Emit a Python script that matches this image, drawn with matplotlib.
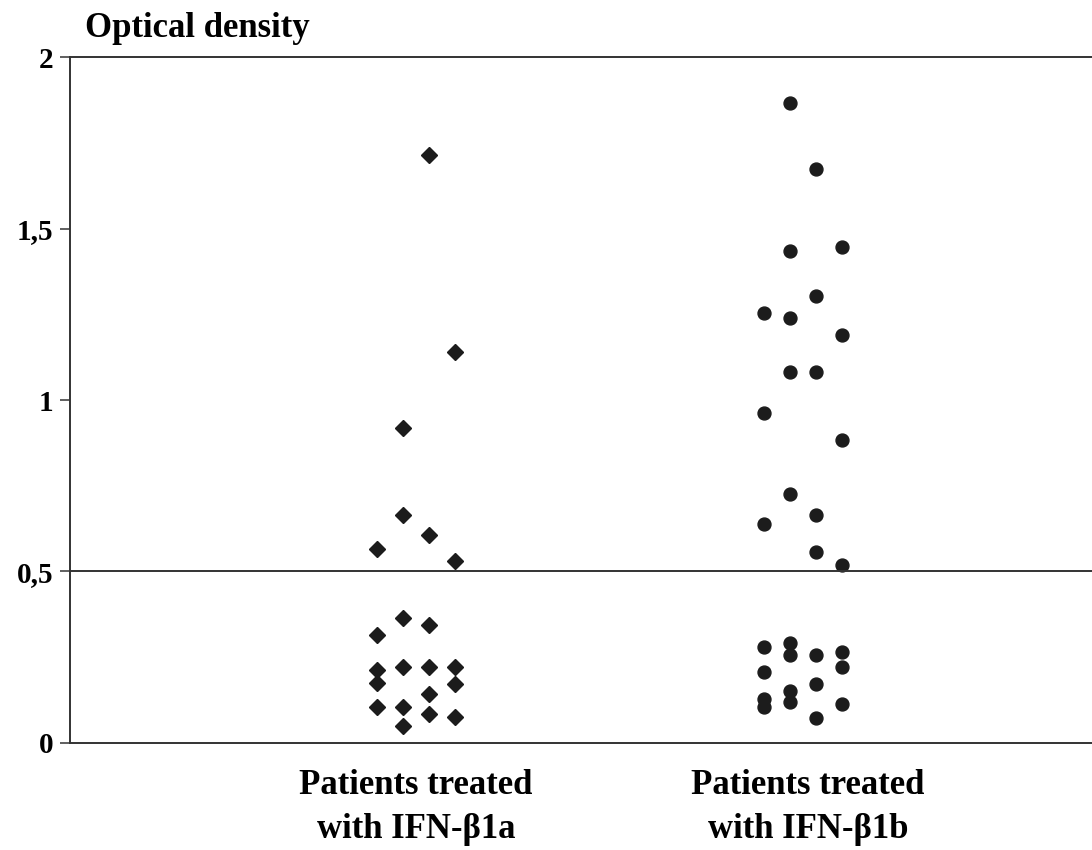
import numpy as np
import matplotlib
matplotlib.use("Agg")
import matplotlib.pyplot as plt

plt.rcParams['font.family'] = ['Liberation Serif', 'DejaVu Serif']

# optical density values, with the column slot (0-3) each dot sits in
ifn1a_od = [1.713, 1.141, 0.919, 0.665, 0.606, 0.565, 0.531,
            0.363, 0.344, 0.315,
            0.213, 0.175, 0.105, 0.222, 0.104, 0.050,
            0.222, 0.142, 0.085, 0.222, 0.171, 0.075]
ifn1a_col = [2, 3, 1, 1, 2, 0, 3,
             1, 2, 0,
             0, 0, 0, 1, 1, 1,
             2, 2, 2, 3, 3, 3]

ifn1b_od = [1.867, 1.673, 1.434, 1.447, 1.304, 1.253, 1.240, 1.191,
            1.083, 1.083, 0.961, 0.883,
            0.726, 0.665, 0.638, 0.556, 0.519,
            0.281, 0.292, 0.257, 0.257, 0.264, 0.222, 0.206, 0.171,
            0.152, 0.128, 0.104, 0.119, 0.114, 0.074]
ifn1b_col = [1, 2, 1, 3, 2, 0, 1, 3,
             1, 2, 0, 3,
             1, 2, 0, 2, 3,
             0, 1, 1, 2, 3, 3, 0, 2,
             1, 0, 0, 1, 3, 2]

group_labels = ['Patients treated\nwith IFN-\u03b21a', 'Patients treated\nwith IFN-\u03b21b']
yticks = [0, 0.5, 1, 1.5, 2]
ytick_labels = ['0', '0,5', '1', '1,5', '2']

col_step = 0.066
ink = '#1c1c1c'

fig = plt.figure(figsize=(10.92, 8.5), dpi=100)
ax = fig.add_axes([0.0641, 0.1259, 0.9359, 0.807])

x1 = 1 + (np.array(ifn1a_col) - 1.5) * col_step
x2 = 1.987 + (np.array(ifn1b_col) - 1.5) * col_step
ax.plot(x1, ifn1a_od, 'D', color=ink, markersize=8, linestyle='none')
ax.plot(x2, ifn1b_od, 'o', color=ink, markersize=9.3, linestyle='none')

ax.axhline(0.5, color='#333333', linewidth=1.4)

ax.set_xlim(0.117, 2.724)
ax.set_ylim(0, 2)
ax.set_yticks(yticks)
ax.set_yticklabels(ytick_labels, fontsize=21, fontweight='bold')
ax.set_xticks([1, 2])
ax.set_xticklabels(group_labels, fontsize=25, fontweight='bold', linespacing=1.42)
ax.tick_params(axis='x', length=0, pad=19)
ax.tick_params(axis='y', length=7, width=1.2, color='#444444', pad=5)

ax.spines['right'].set_visible(False)
for s in ['left', 'top', 'bottom']:
    ax.spines[s].set_color('#333333')
    ax.spines[s].set_linewidth(1.4)

fig.text(0.078, 0.967, 'Optical density', fontsize=25, fontweight='bold',
         ha='left', va='center')

fig.savefig('out.png', dpi=100)
